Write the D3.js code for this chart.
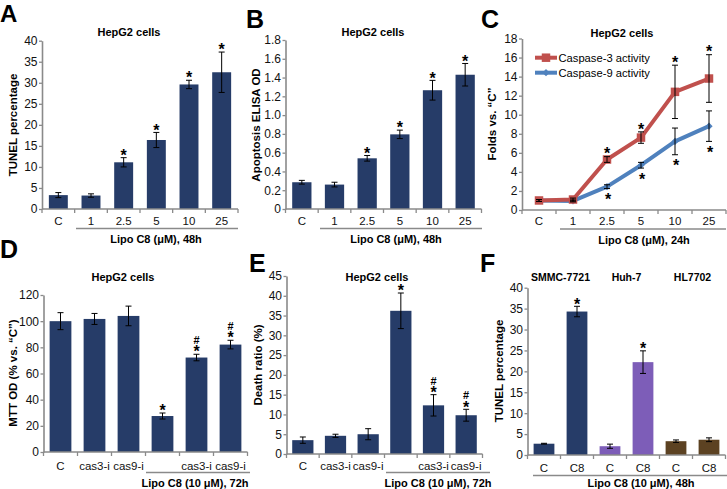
<!DOCTYPE html>
<html><head><meta charset="utf-8">
<script src="https://cdn.jsdelivr.net/npm/d3@7"></script>
<style>
body{margin:0;background:#fff}
svg{display:block;font-family:"Liberation Sans",Arial,sans-serif}
</style>
</head><body>
<svg id="chart" width="727" height="489"></svg>
<script>
// ---------------- DATA ----------------
const doseLabels = ["C", "1", "2.5", "5", "10", "25"];
const tunelA = [3.3, 3.2, 11.1, 16.4, 29.6, 32.5];
const tunelAErr = [0.6, 0.4, 1.1, 1.8, 1.0, 4.8];
const elisaB = [0.285, 0.26, 0.54, 0.795, 1.265, 1.43];
const elisaBErr = [0.02, 0.025, 0.03, 0.045, 0.105, 0.12];
const sigAB = ["", "", "*", "*", "*", "*"];

const casp3C = [1.0, 1.1, 5.3, 7.6, 12.4, 13.8];
const casp3CErr = [0.1, 0.15, 0.3, 0.6, 2.8, 2.5];
const casp9C = [1.0, 0.95, 2.45, 4.7, 7.2, 8.8];
const casp9CErr = [0.1, 0.1, 0.2, 0.3, 1.4, 1.6];
const sigC = ["", "", "*", "*", "*", "*"];
const seriesNamesC = ["Caspase-3 activity", "Caspase-9 activity"];

const inhibLabels = ["C", "cas3-i", "cas9-i", "", "cas3-i", "cas9-i"];
const mttD = [100, 101.7, 104, 27.5, 72.2, 82.1];
const mttDErr = [6.5, 4.2, 7.5, 2.3, 2.5, 3.3];
const deathE = [3.5, 4.6, 5.0, 36.2, 12.3, 9.8];
const deathEErr = [0.8, 0.4, 1.4, 4.5, 2.7, 1.5];
const sigDE = ["", "", "", "*", "#*", "#*"];

const cellLines = ["SMMC-7721", "Huh-7", "HL7702"];
const treatLabels = ["C", "C8", "C", "C8", "C", "C8"];
const tunelF = [2.7, 34.3, 2.1, 22.2, 3.3, 3.65];
const tunelFErr = [0.1, 1.25, 0.5, 2.7, 0.3, 0.45];
const sigF = ["", "*", "", "*", "", ""];

const ticksA = [0, 5, 10, 15, 20, 25, 30, 35, 40];
const ticksB = [0, 0.2, 0.4, 0.6, 0.8, 1.0, 1.2, 1.4, 1.6, 1.8];
const ticksC = [0, 2, 4, 6, 8, 10, 12, 14, 16, 18];
const ticksD = [0, 20, 40, 60, 80, 100, 120];
const ticksE = [0, 5, 10, 15, 20, 25, 30, 35, 40, 45];
const ticksF = [0, 5, 10, 15, 20, 25, 30, 35, 40];

// ---------------- STYLE ----------------
const AXIS = "#8a8a8a";
const NAVY = "#263c68";
const PURPLE = "#7d5db8";
const BROWN = "#5c4222";
const RED = "#c0504d";
const BLUE = "#4f81bd";
const FONT = '"Liberation Sans", Arial, sans-serif';
const TICK_FS = 11.5;

const svg = d3.select("#chart");

function txt(g, s, x, y, size, bold, anchor) {
  return g.append("text").attr("x", x).attr("y", y).attr("font-size", size)
    .attr("font-weight", bold ? "bold" : "normal").attr("text-anchor", anchor || "middle")
    .attr("fill", "#000").attr("font-family", FONT).text(s);
}

function drawYAxis(g, y, x0, ticks, fmt) {
  const ax = g.append("g").attr("transform", `translate(${x0},0)`)
    .call(d3.axisLeft(y).tickValues(ticks).tickSize(3).tickSizeOuter(0).tickPadding(1.5).tickFormat(fmt));
  ax.attr("font-family", FONT).attr("font-size", 12);
  ax.select(".domain").attr("stroke", AXIS).attr("stroke-width", 1.6);
  ax.selectAll(".tick line").attr("stroke", AXIS).attr("stroke-width", 1.3);
  ax.selectAll(".tick text").attr("fill", "#111");
}

function drawXAxis(g, x0, x1, yBot, n, labels, labelY) {
  const xs = d3.scaleLinear().domain([0, n]).range([x0, x1]);
  g.append("line").attr("x1", x0).attr("x2", x1).attr("y1", yBot).attr("y2", yBot)
    .attr("stroke", AXIS).attr("stroke-width", 1.6);
  g.selectAll(null).data(d3.range(n + 1)).join("line")
    .attr("x1", d => xs(d)).attr("x2", d => xs(d)).attr("y1", yBot).attr("y2", yBot + 4)
    .attr("stroke", AXIS).attr("stroke-width", 1.3);
  labels.forEach((l, i) => txt(g, l, xs(i + 0.5), labelY, TICK_FS, false).attr("fill", "#111"));
  return xs;
}

// significance marks: one text element, glyphs stacked upward with tspans
function drawMarks(g, s, cx, topY) {
  const chars = s.split("");
  const t = g.append("text").attr("text-anchor", "middle").attr("font-weight", "bold")
    .attr("font-family", FONT).attr("fill", "#000");
  let cy = topY - 6;
  const pos = [];
  for (let k = chars.length - 1; k >= 0; k--) {
    const c = chars[k];
    if (c === "*") { pos.unshift({ c, y: cy + 9.2, fs: 16 }); cy -= 8; }
    else { pos.unshift({ c, y: cy + 4, fs: 11 }); cy -= 9; }
  }
  pos.forEach(p => t.append("tspan").attr("x", cx).attr("y", p.y).attr("font-size", p.fs).text(p.c));
}

function barPanel(o) {
  const g = svg.append("g");
  const n = o.values.length;
  const x = d3.scaleBand().domain(d3.range(n)).range([o.x0, o.x1])
    .paddingInner(o.pad).paddingOuter(o.pad / 2);
  const y = d3.scaleLinear().domain([0, o.max]).range([o.yBot, o.yTop]);

  g.selectAll(null).data(o.values).join("rect")
    .attr("x", (d, i) => x(i)).attr("width", x.bandwidth())
    .attr("y", d => y(d)).attr("height", d => y(0) - y(d))
    .attr("fill", (d, i) => o.colors[i]);

  const cap = 3;
  o.values.forEach((v, i) => {
    const cx = x(i) + x.bandwidth() / 2;
    const e = o.errors[i];
    const t = y(v + e), b = y(v - e);
    g.append("line").attr("x1", cx).attr("x2", cx).attr("y1", t).attr("y2", b).attr("stroke", "#000").attr("stroke-width", 1);
    g.append("line").attr("x1", cx - cap).attr("x2", cx + cap).attr("y1", t).attr("y2", t).attr("stroke", "#000").attr("stroke-width", 1);
    g.append("line").attr("x1", cx - cap).attr("x2", cx + cap).attr("y1", b).attr("y2", b).attr("stroke", "#000").attr("stroke-width", 1);
    if (o.sig[i]) drawMarks(g, o.sig[i], cx, t);
  });

  drawYAxis(g, y, o.x0, o.ticks, o.fmt);
  drawXAxis(g, o.x0, o.x1, o.yBot, n, o.labels, o.labelY);
  return { g, x, y };
}

function groupLine(x1, x2, y) {
  svg.append("line").attr("x1", x1).attr("x2", x2).attr("y1", y).attr("y2", y)
    .attr("stroke", AXIS).attr("stroke-width", 1.3);
}

function yTitle(s, xc, yc) {
  svg.append("text").attr("transform", `translate(${xc},${yc}) rotate(-90)`)
    .attr("dy", "0.35em").attr("text-anchor", "middle").attr("font-size", 11.5)
    .attr("font-weight", "bold").attr("font-family", FONT).text(s);
}

const intFmt = d3.format("d");
const decFmt = d => d === 0 ? "0" : d3.format(".1f")(d);
const TITLE_FS = 11;
const SUB_FS = 11;

// ---------------- PANEL A ----------------
barPanel({ x0: 42, x1: 238, yTop: 40.7, yBot: 209, max: 40, ticks: ticksA, fmt: intFmt,
  values: tunelA, errors: tunelAErr, sig: sigAB, labels: doseLabels, labelY: 224.5,
  colors: tunelA.map(() => NAVY), pad: 0.42 });
txt(svg, "A", 0, 22, 24, true, "start");
txt(svg, "HepG2 cells", 129, 36, TITLE_FS, true);
yTitle("TUNEL percentage", 12.5, 125);
groupLine(76, 238, 228.5);
txt(svg, "Lipo C8 (μM), 48h", 156, 243, SUB_FS, true);

// ---------------- PANEL B ----------------
barPanel({ x0: 285.5, x1: 481.5, yTop: 40, yBot: 209, max: 1.8, ticks: ticksB, fmt: decFmt,
  values: elisaB, errors: elisaBErr, sig: sigAB, labels: doseLabels, labelY: 224.5,
  colors: elisaB.map(() => NAVY), pad: 0.41 });
txt(svg, "B", 246, 28, 25, true, "start");
txt(svg, "HepG2 cells", 373, 36, TITLE_FS, true);
yTitle("Apoptosis ELISA OD", 256, 125);
groupLine(320, 482, 228.5);
txt(svg, "Lipo C8 (μM), 48h", 396, 243, SUB_FS, true);

// ---------------- PANEL C ----------------
(function () {
  const g = svg.append("g");
  const x0 = 522, x1 = 726, yTop = 38.5, yBot = 210;
  const x = d3.scalePoint().domain(d3.range(doseLabels.length)).range([x0, x1]).padding(0.5);
  const y = d3.scaleLinear().domain([0, 18]).range([yBot, yTop]);
  drawYAxis(g, y, x0, ticksC, intFmt);
  drawXAxis(g, x0, x1, yBot, doseLabels.length, doseLabels, 224.5);

  const line = d3.line().x((d, i) => x(i)).y(d => y(d));
  const series = [
    { vals: casp9C, err: casp9CErr, color: BLUE, sym: "diamond", starBelow: true },
    { vals: casp3C, err: casp3CErr, color: RED, sym: "square", starBelow: false }
  ];
  const sq = d3.symbol(d3.symbolSquare, 72)();
  const di = d3.symbol(d3.symbolSquare, 26)();
  series.forEach(s => {
    g.append("path").datum(s.vals).attr("d", line).attr("fill", "none")
      .attr("stroke", s.color).attr("stroke-width", 4).attr("stroke-linejoin", "round");
    g.selectAll(null).data(s.vals).join("path")
      .attr("d", s.sym === "square" ? sq : di)
      .attr("transform", (d, i) => `translate(${x(i)},${y(d)})` + (s.sym === "diamond" ? " rotate(45)" : ""))
      .attr("fill", s.color);
  });
  series.forEach(s => {
    s.vals.forEach((v, i) => {
      const cx = x(i), t = y(v + s.err[i]), b = y(v - s.err[i]);
      g.append("line").attr("x1", cx).attr("x2", cx).attr("y1", t).attr("y2", b).attr("stroke", "#000").attr("stroke-width", 1);
      [t, b].forEach(yy => g.append("line").attr("x1", cx - 3).attr("x2", cx + 3).attr("y1", yy).attr("y2", yy).attr("stroke", "#000").attr("stroke-width", 1));
      if (sigC[i]) {
        const cy = s.starBelow ? b + 7.5 : t - 6.5;
        txt(g, "*", cx + (s.starBelow ? 1 : 0), cy + 9.2, 16, true);
      }
    });
  });
  const leg = [{ name: seriesNamesC[0], color: RED, sym: sq, rot: "" }, { name: seriesNamesC[1], color: BLUE, sym: di, rot: " rotate(45)" }];
  leg.forEach((l, k) => {
    const ly = 57.7 + k * 15;
    g.append("line").attr("x1", 535).attr("x2", 557).attr("y1", ly).attr("y2", ly).attr("stroke", l.color).attr("stroke-width", 4);
    g.append("path").attr("d", l.sym).attr("transform", `translate(546,${ly})` + l.rot).attr("fill", l.color);
    txt(g, l.name, 558.5, ly + 4, 11.2, false, "start");
  });
})();
txt(svg, "C", 481, 28, 25, true, "start");
txt(svg, "HepG2 cells", 622, 36.5, TITLE_FS, true);
yTitle("Folds vs. “C”", 492, 124);
groupLine(560, 726, 229);
txt(svg, "Lipo C8 (μM), 24h", 644, 244, SUB_FS, true);

// ---------------- PANEL D ----------------
barPanel({ x0: 43.5, x1: 247.5, yTop: 295, yBot: 452, max: 120, ticks: ticksD, fmt: intFmt,
  values: mttD, errors: mttDErr, sig: sigDE, labels: inhibLabels, labelY: 469.5,
  colors: mttD.map(() => NAVY), pad: 0.36 });
txt(svg, "D", 0, 258, 25, true, "start");
txt(svg, "HepG2 cells", 123, 281, TITLE_FS, true);
yTitle("MTT OD (% vs. “C”)", 13, 373);
groupLine(146, 250, 472.5);
txt(svg, "Lipo C8 (10 μM), 72h", 195, 487, SUB_FS, true);

// ---------------- PANEL E ----------------
barPanel({ x0: 286.5, x1: 482.5, yTop: 276, yBot: 454, max: 45, ticks: ticksE, fmt: intFmt,
  values: deathE, errors: deathEErr, sig: sigDE, labels: inhibLabels, labelY: 469.5,
  colors: deathE.map(() => NAVY), pad: 0.35 });
txt(svg, "E", 249, 272, 25, true, "start");
txt(svg, "HepG2 cells", 377, 281, TITLE_FS, true);
yTitle("Death ratio (%)", 258, 365);
groupLine(386, 490, 472.5);
txt(svg, "Lipo C8 (10 μM), 72h", 438, 487, SUB_FS, true);

// ---------------- PANEL F ----------------
const colorsF = tunelF.map((d, i) => [NAVY, PURPLE, BROWN][Math.floor(i / 2)]);
barPanel({ x0: 527.5, x1: 725.5, yTop: 287.7, yBot: 455, max: 40, ticks: ticksF, fmt: intFmt,
  values: tunelF, errors: tunelFErr, sig: sigF, labels: treatLabels, labelY: 472,
  colors: colorsF, pad: 0.37 });
txt(svg, "F", 480, 272, 25, true, "start");
const xF = d3.scaleBand().domain(cellLines).range([527.5, 725.5]);
cellLines.forEach(c => txt(svg, c, xF(c) + xF.bandwidth() / 2, 281, 10.5, true));
yTitle("TUNEL percentage", 498.5, 371);
groupLine(533, 727, 475.5);
txt(svg, "Lipo C8 (10 μM), 48h", 641, 487, SUB_FS, true);
</script>
</body></html>
